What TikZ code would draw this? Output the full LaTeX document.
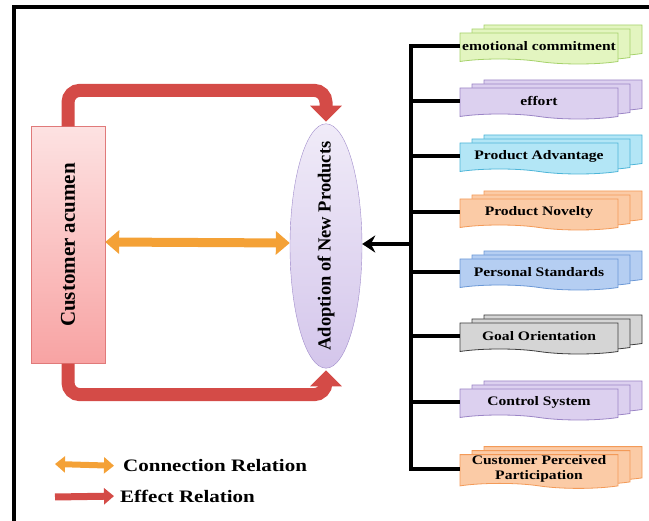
\documentclass[tikz,border=0pt]{standalone}
\usepackage{fontspec}
\setmainfont{Liberation Serif}[FakeStretch=1.2]
\newfontfamily\upfont{Liberation Serif}
\usetikzlibrary{positioning,shapes,shadows,arrows.meta}

\definecolor{effred}{HTML}{D44B47}
\definecolor{connorange}{HTML}{F4A136}
\definecolor{acuedge}{HTML}{E07A7A}
\definecolor{acutop}{HTML}{FDE2E2}
\definecolor{acubot}{HTML}{F8A3A3}
\definecolor{adoedge}{HTML}{A08CCB}
\definecolor{adotop}{HTML}{F0EBF8}
\definecolor{adobot}{HTML}{D4C6EB}
\definecolor{greenfill}{HTML}{E3F5C0}
\definecolor{greenedge}{HTML}{A6D26B}
\definecolor{purplefill}{HTML}{DCD0EF}
\definecolor{purpleedge}{HTML}{9B85C6}
\definecolor{cyanfill}{HTML}{B3E6F6}
\definecolor{cyanedge}{HTML}{4DB5D8}
\definecolor{orangefill}{HTML}{FBCBA6}
\definecolor{orangeedge}{HTML}{F39A58}
\definecolor{bluefill}{HTML}{B5CEF2}
\definecolor{blueedge}{HTML}{6B98D6}
\definecolor{grayfill}{HTML}{D5D5D5}
\definecolor{grayedge}{HTML}{3C3C3C}

\begin{document}
\begin{tikzpicture}[%
        x=1pt, y=-1pt,
        factor/.style 2 args={%
          tape,
          tape bend top=none,
          tape bend bottom=out and in,
          tape bend height=5pt,
          minimum width=158pt,
          minimum height=31pt,
          inner sep=1pt,
          fill=#1, draw=#2, line width=0.8pt,
          align=center,
          font=\fontsize{13}{15}\selectfont\bfseries,
          double copy shadow={shadow xshift=12pt, shadow yshift=4pt}
        },
        acumen/.style={%
          rectangle, rotate=90,
          minimum width=237pt, minimum height=74pt,
          draw=acuedge, top color=acutop, bottom color=acubot,
          font=\upfont\fontsize{21}{24}\selectfont\bfseries
        },
        adoption/.style={%
          ellipse, rotate=90, inner xsep=-18pt, inner ysep=0pt,
          minimum width=238pt, minimum height=72pt,
          draw=adoedge, top color=adotop, bottom color=adobot,
          font=\upfont\fontsize{18.5}{20}\selectfont\bfseries
        },
        effect/.style={%
          draw=effred, line width=13pt, rounded corners=12pt,
          shorten >=2pt, -{Triangle[length=16pt,width=31pt]}
        },
        connect/.style={%
          draw=connorange, line width=9pt,
          {Triangle[length=14pt,width=23pt]}-{Triangle[length=14pt,width=23pt]}
        },
        branch/.style={line width=4pt, draw=black},
        legend/.style={inner sep=0pt, font=\fontsize{17.5}{20}\selectfont\bfseries}
      ]
      \useasboundingbox (0,0) rectangle (649,521);
      % frame of the page
      \draw[line width=4pt] (649,7) -- (14,7) -- (14,521);

      \node[acumen] (acumen) at (68,245) {Customer acumen};
      \node[adoption] (adoption) at (326,246) {Adoption of New Products};

      \node[factor={greenfill}{greenedge}] (1) at (539,46) {emotional commitment};
      \node[factor={purplefill}{purpleedge}] (2) at (539,101) {effort};
      \node[factor={cyanfill}{cyanedge}] (3) at (539,156) {Product Advantage};
      \node[factor={orangefill}{orangeedge}] (4) at (539,212) {Product Novelty};
      \node[factor={bluefill}{blueedge}] (5) at (539,272) {Personal Standards};
      \node[factor={grayfill}{grayedge}] (6) at (539,336) {Goal Orientation};
      \node[factor={purplefill}{purpleedge}] (7) at (539,402) {Control System};
      \node[factor={orangefill}{orangeedge}] (8) at (539,469) {Customer Perceived\\Participation};

      \coordinate (trunk) at (411,0);

      \draw[effect] (acumen.east) -- ++(0,-36) -| (adoption.east);
      \draw[effect] (acumen.west) -- ++(0,31) -| (adoption.west);
      \draw[connect] ([yshift=3pt]acumen.south) -- ([yshift=3pt]adoption.north);

      \draw[branch, line cap=rect] (1.west -| trunk) -- (8.west -| trunk);
      \foreach \n in {1,...,8}
        \draw[branch] (\n.west -| trunk) -- (\n.west);
      \draw[branch, -{Stealth[length=13pt,width=17pt]}] ([yshift=2pt]adoption.south -| trunk) -- ([yshift=2pt]adoption.south);

      % legend
      \coordinate (c0) at (55,464);
      \coordinate (e0) at (55,497);
      \node[legend, anchor=west] (conn) at (123,466) {Connection Relation};
      \node[legend, anchor=west] (eff) at (120,496) {Effect Relation};
      \draw[connect, line width=6pt, shorten >=9pt,
        {Triangle[length=10pt,width=16pt]}-{Triangle[length=10pt,width=16pt]}] (c0) -- (conn.west);
      \draw[draw=effred, line width=7pt, shorten >=6pt,
        -{Triangle[length=10pt,width=16pt]}] (e0) -- (eff.west);
    \end{tikzpicture}
\end{document}
